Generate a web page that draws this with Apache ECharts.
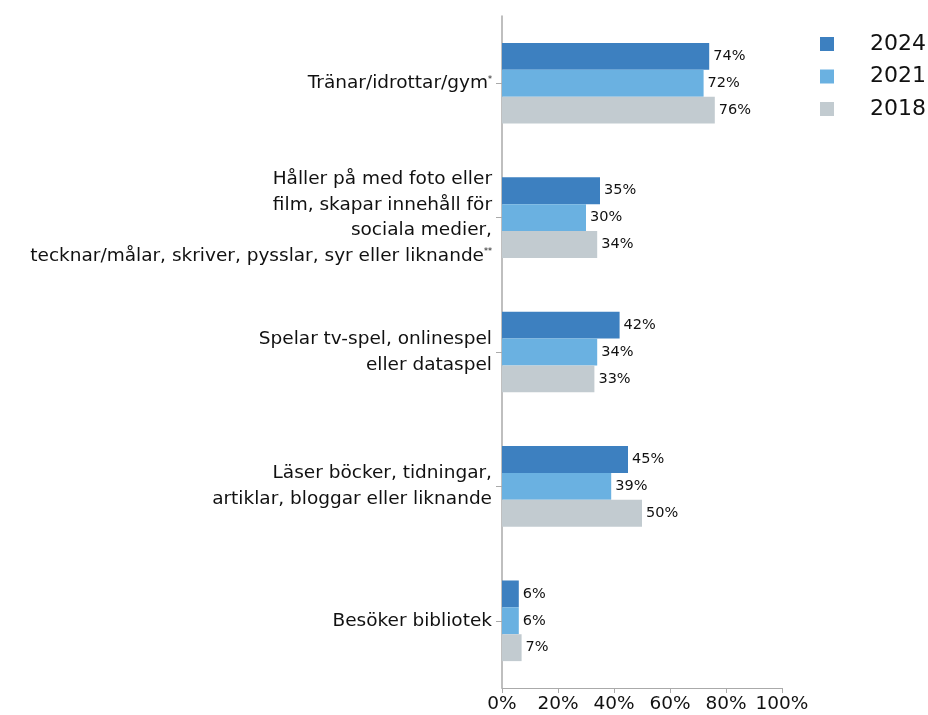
<!DOCTYPE html>
<html>
<head>
<meta charset="utf-8">
<script src="https://cdn.jsdelivr.net/npm/echarts@6/dist/echarts.min.js"></script>
<style>
  html, body { margin: 0; padding: 0; background: #fff; }
  #main { width: 928px; height: 715px; }
</style>
</head>
<body>
<div id="main"></div>
<script>
const categories = [
    'Tränar/idrottar/gym{sup|*}',
    'Håller på med foto eller\nfilm, skapar innehåll för\nsociala medier,\ntecknar/målar, skriver, pysslar, syr eller liknande{sup|**}',
    'Spelar tv-spel, onlinespel\neller dataspel',
    'Läser böcker, tidningar,\nartiklar, bloggar eller liknande',
    'Besöker bibliotek'
];
const years = ['2024', '2021', '2018'];
const v2024 = [74, 35, 42, 45, 6];
const v2021 = [72, 30, 34, 39, 6];
const v2018 = [76, 34, 33, 50, 7];
const xTicks = [0, 20, 40, 60, 80, 100];

const colors = ['#3d80c0', '#6ab1e1', '#c2cbd0'];
const font = '"DejaVu Sans", "Open Sans", sans-serif';

const chart = echarts.init(document.getElementById('main'));

function bar(name, data, color) {
    return {
        name: name, type: 'bar', data: data,
        barGap: 0, barCategoryGap: '40%',
        itemStyle: { color: color },
        label: { show: true, position: 'right', distance: 4, formatter: '{c}%',
            color: '#111', fontSize: 14.5, fontFamily: font },
        animation: false
    };
}

chart.setOption({
    animation: false,
    color: colors,
    grid: { left: 502, right: 146, top: 16, bottom: 27 },
    legend: {
        data: years, orient: 'vertical', left: 815, top: 28,
        itemWidth: 14, itemHeight: 14, itemGap: 10.5, icon: 'rect',
        textStyle: { fontSize: 22, color: '#111', fontFamily: font, padding: [0, 0, 0, 31] }
    },
    xAxis: {
        type: 'value', min: xTicks[0], max: xTicks[xTicks.length - 1], interval: 20,
        axisLine: { show: true, lineStyle: { color: '#aaa' } },
        axisTick: { show: true, length: 5, lineStyle: { color: '#aaa' } },
        splitLine: { show: false },
        axisLabel: { formatter: '{value}%', fontSize: 18.5, color: '#111', fontFamily: font, margin: 7 }
    },
    yAxis: {
        type: 'category', data: categories, inverse: true,
        axisLine: { show: true, onZero: false, lineStyle: { color: '#aaa', width: 1.5 } },
        axisTick: { show: true, alignWithLabel: true, length: 6, lineStyle: { color: '#aaa' } },
        axisLabel: {
            fontSize: 18.5, color: '#111', fontFamily: font, lineHeight: 25.5, margin: 10, align: 'right',
            rich: { sup: { fontSize: 8, verticalAlign: 'top', padding: [5, 0, 0, 0], color: '#111', fontFamily: font } }
        }
    },
    series: [
        bar(years[0], v2024, colors[0]),
        bar(years[1], v2021, colors[1]),
        bar(years[2], v2018, colors[2])
    ]
});
</script>
</body>
</html>
